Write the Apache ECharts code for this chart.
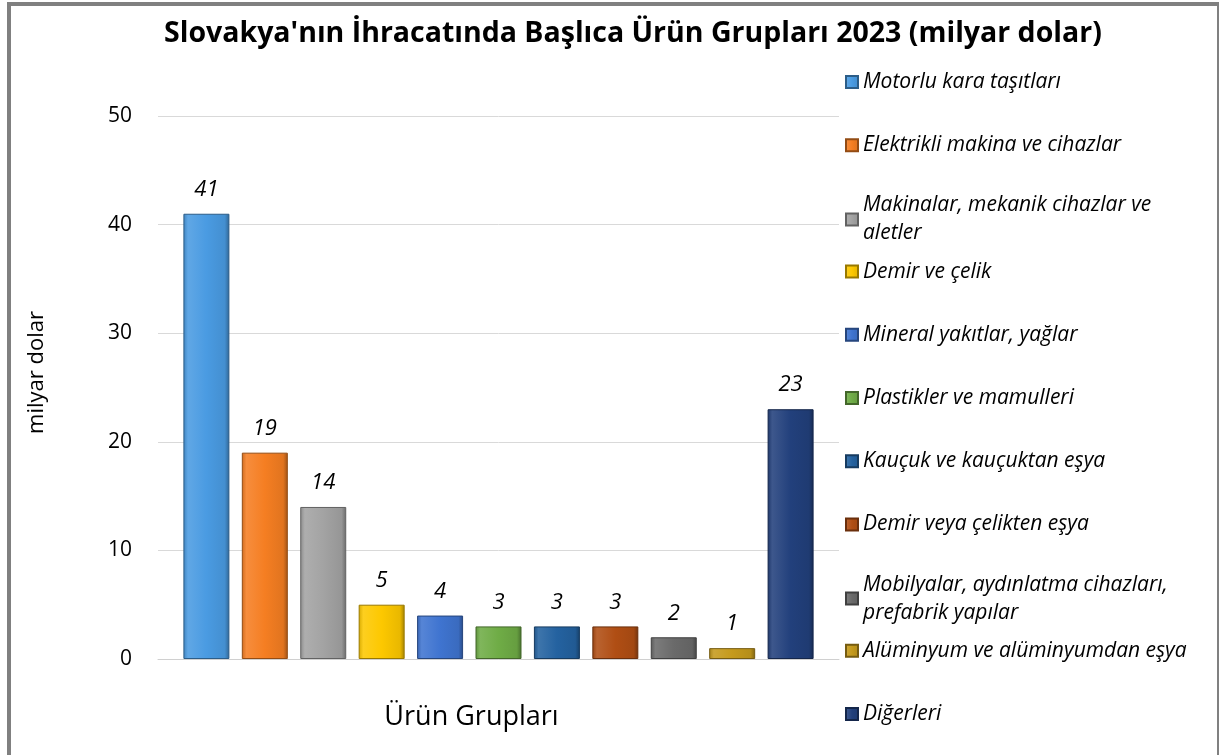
<!DOCTYPE html>
<html>
<head>
<meta charset="utf-8">
<script src="https://cdn.jsdelivr.net/npm/echarts@6/dist/echarts.min.js"></script>
<style>
html, body { margin: 0; padding: 0; background: #fff; overflow: hidden; }
#frame { position: absolute; left: 7px; top: 2px; width: 1206px; height: 770px; border: 4px solid #808080; border-bottom: none; }
#main { position: absolute; left: 0; top: 0; width: 1219px; height: 755px; }
</style>
</head>
<body>
<div id="frame"></div>
<div id="main"></div>
<script>
// kategori (tek grup) ve seriler
var categories = ['Ürün Grupları'];
var seriesNames = [
	'Motorlu kara taşıtları',
	'Elektrikli makina ve cihazlar',
	'Makinalar, mekanik cihazlar ve aletler',
	'Demir ve çelik',
	'Mineral yakıtlar, yağlar',
	'Plastikler ve mamulleri',
	'Kauçuk ve kauçuktan eşya',
	'Demir veya çelikten eşya',
	'Mobilyalar, aydınlatma cihazları, prefabrik yapılar',
	'Alüminyum ve alüminyumdan eşya',
	'Diğerleri'
];
var seriesValues = [41, 19, 14, 5, 4, 3, 3, 3, 2, 1, 23];
var yTicks = [0, 10, 20, 30, 40, 50];

var baseColors = ['#4a9be2', '#f57e22', '#a3a3a3', '#fdc800', '#3f74d0', '#6fac46',
	'#2462a0', '#b04e14', '#6a6a6a', '#c59a1c', '#22407c'];

// legend satır kırılmaları
var legendLabels = {
	'Makinalar, mekanik cihazlar ve aletler': 'Makinalar, mekanik cihazlar ve\naletler',
	'Mobilyalar, aydınlatma cihazları, prefabrik yapılar': 'Mobilyalar, aydınlatma cihazları,\nprefabrik yapılar'
};

function shade(hex, f){
	var r = parseInt(hex.substr(1,2),16), g = parseInt(hex.substr(3,2),16), b = parseInt(hex.substr(5,2),16);
	function c(v){
		v = f < 0 ? v * (1 + f) : v + (255 - v) * f;
		v = Math.max(0, Math.min(255, Math.round(v)));
		return (v < 16 ? '0' : '') + v.toString(16);
	}
	return '#' + c(r) + c(g) + c(b);
}

function bevel(hex){
	return new echarts.graphic.LinearGradient(0, 0, 1, 0, [
		{offset: 0, color: shade(hex, -0.15)},
		{offset: 0.1, color: shade(hex, 0.12)},
		{offset: 0.5, color: hex},
		{offset: 0.9, color: shade(hex, -0.08)},
		{offset: 1, color: shade(hex, -0.35)}
	]);
}

var chart = echarts.init(document.getElementById('main'));

var series = [];
var legends = [];
for(var i = 0; i < seriesNames.length; ++i){
	var name = seriesNames[i];
	series.push({
		name: name,
		type: 'bar',
		data: [seriesValues[i]],
		barWidth: 46,
		barGap: '27%',
		itemStyle: {
			color: bevel(baseColors[i]),
			borderColor: shade(baseColors[i], -0.4),
			borderWidth: 1
		},
		label: {
			show: true,
			position: 'top',
			distance: 13,
			fontFamily: 'Open Sans',
			fontStyle: 'italic',
			fontSize: 22,
			color: '#000'
		}
	});
	legends.push({
		data: [name],
		left: 845,
		top: 68 + i * 63.2 - (legendLabels[name] ? 3 : 0),
		padding: 0,
		orient: 'vertical',
		itemWidth: 12,
		itemHeight: 12,
		icon: 'rect',
		selectedMode: false,
		formatter: function(n){
			return legendLabels[n] || n;
		},
		textStyle: {
			fontFamily: 'Open Sans',
			fontStyle: 'italic',
			fontSize: 21,
			lineHeight: 28,
			color: '#000'
		}
	});
}

var option = {
	animation: false,
	backgroundColor: 'transparent',
	title: {
		text: "Slovakya'nın İhracatında Başlıca Ürün Grupları 2023 (milyar dolar)",
		left: 159,
		top: 14,
		textStyle: {
			fontFamily: 'Open Sans',
			fontWeight: 'bold',
			fontSize: 28.5,
			color: '#000'
		}
	},
	legend: legends,
	grid: {
		left: 158,
		right: 380,
		top: 116,
		bottom: 96
	},
	xAxis: {
		type: 'category',
		data: categories,
		axisTick: {show: false},
		axisLine: {lineStyle: {color: '#d0d0d0', width: 1}},
		axisLabel: {
			fontFamily: 'Open Sans',
			fontSize: 27,
			color: '#000',
			margin: 45,
			padding: [0, 54, 0, 0]
		}
	},
	yAxis: {
		type: 'value',
		min: yTicks[0],
		max: yTicks[yTicks.length - 1],
		interval: 10,
		name: 'milyar dolar',
		nameLocation: 'middle',
		nameGap: 110,
		nameTextStyle: {
			fontFamily: 'Open Sans',
			fontSize: 22,
			color: '#000',
			padding: [0, 0, 0, 30]
		},
		axisLine: {show: false},
		axisTick: {show: false},
		splitLine: {lineStyle: {color: '#d9d9d9', width: 1}},
		axisLabel: {
			fontFamily: 'Open Sans',
			fontSize: 21,
			color: '#000',
			margin: 26
		}
	},
	series: series
};

chart.setOption(option);
</script>
</body>
</html>
